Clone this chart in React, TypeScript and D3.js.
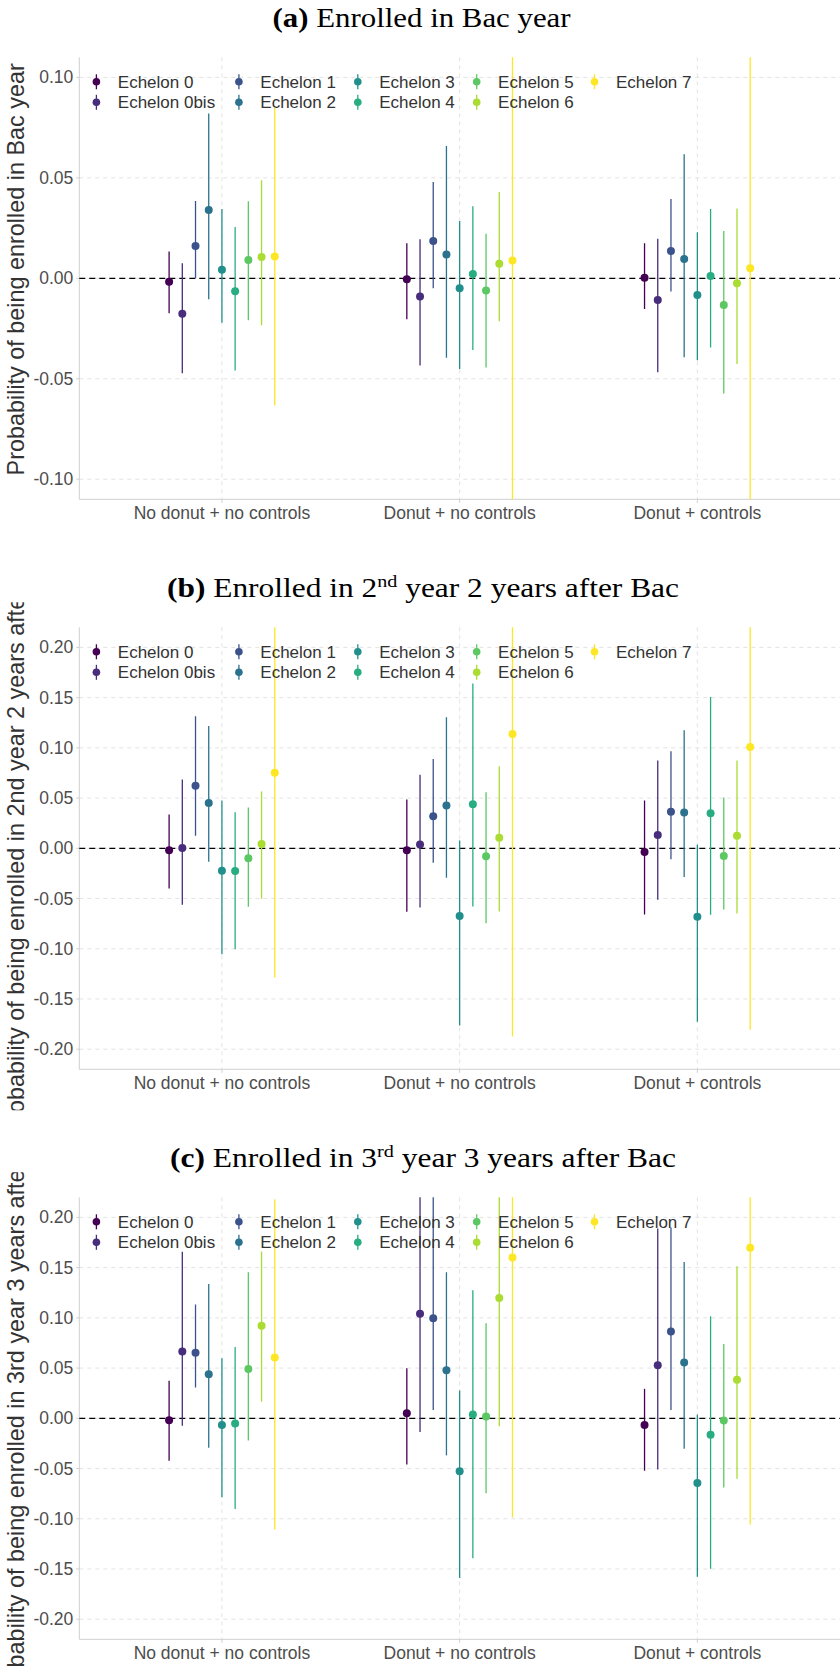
import React from 'react';
import * as d3 from 'd3';

const categories = ['No donut + no controls', 'Donut + no controls', 'Donut + controls'];
const echelons = ['Echelon 0', 'Echelon 0bis', 'Echelon 1', 'Echelon 2', 'Echelon 3', 'Echelon 4', 'Echelon 5', 'Echelon 6', 'Echelon 7'];
const echelonColors = ['#440154', '#472D7B', '#3B528B', '#2C728E', '#21908C', '#27AD81', '#5DC863', '#AADC32', '#FDE725'];

// Panel (a): Enrolled in Bac year — rows = categories, columns = echelons
const estA = [
  [-0.0017, -0.0177, 0.0161, 0.034, 0.0043, -0.0065, 0.0091, 0.0106, 0.0109],
  [-0.0005, -0.0091, 0.0186, 0.0118, -0.005, 0.0022, -0.0061, 0.0073, 0.0088],
  [0.0003, -0.0108, 0.0136, 0.0096, -0.0083, 0.0012, -0.0133, -0.0025, 0.005],
];
const loA = [
  [-0.0174, -0.0473, 0.0, -0.0104, -0.0221, -0.0459, -0.0209, -0.0234, -0.0633],
  [-0.0204, -0.0434, -0.005, -0.0395, -0.0451, -0.0357, -0.0444, -0.0214, -0.15],
  [-0.0153, -0.0468, -0.0066, -0.0393, -0.0408, -0.0345, -0.0574, -0.0426, -0.15],
];
const hiA = [
  [0.0133, 0.0075, 0.0385, 0.082, 0.0345, 0.0255, 0.0383, 0.0488, 0.085],
  [0.0174, 0.0194, 0.0479, 0.0658, 0.0285, 0.0358, 0.0222, 0.043, 0.17],
  [0.0174, 0.0197, 0.0395, 0.0617, 0.0229, 0.0345, 0.0235, 0.0348, 0.16],
];

// Panel (b): Enrolled in 2nd year 2 years after Bac
const estB = [
  [-0.002, 0.0003, 0.0622, 0.0452, -0.0223, -0.0226, -0.01, 0.0043, 0.0752],
  [-0.002, 0.0037, 0.0319, 0.0426, -0.0675, 0.0439, -0.008, 0.0106, 0.1138],
  [-0.0037, 0.0133, 0.0363, 0.0356, -0.0682, 0.0349, -0.0077, 0.0126, 0.1008],
];
const loB = [
  [-0.0399, -0.0562, 0.0126, -0.0133, -0.1055, -0.1005, -0.0582, -0.0502, -0.1287],
  [-0.0632, -0.0589, -0.0143, -0.0293, -0.1763, -0.0579, -0.0745, -0.0629, -0.1873],
  [-0.0659, -0.0512, -0.011, -0.0286, -0.1727, -0.0662, -0.0609, -0.0649, -0.1806],
];
const hiB = [
  [0.0336, 0.0685, 0.1314, 0.1218, 0.0476, 0.0359, 0.0406, 0.0566, 0.279],
  [0.0486, 0.0732, 0.0888, 0.1304, 0.0077, 0.164, 0.0559, 0.0818, 0.415],
  [0.0476, 0.0875, 0.0965, 0.1174, 0.0037, 0.1507, 0.0506, 0.0875, 0.382],
];

// Panel (c): Enrolled in 3rd year 3 years after Bac
const estC = [
  [-0.002, 0.0665, 0.0652, 0.0439, -0.0067, -0.0053, 0.0492, 0.0921, 0.0605],
  [0.005, 0.1041, 0.0995, 0.0479, -0.0526, 0.0037, 0.0017, 0.1198, 0.16],
  [-0.0067, 0.0529, 0.0865, 0.0556, -0.0645, -0.0163, -0.0023, 0.0383, 0.1697],
];
const loC = [
  [-0.0422, -0.0073, 0.0306, -0.0293, -0.0785, -0.0902, -0.022, 0.0166, -0.1108],
  [-0.0459, -0.0136, 0.0083, -0.0369, -0.159, -0.1394, -0.0745, -0.008, -0.0988],
  [-0.0522, -0.0509, 0.0083, -0.0303, -0.1577, -0.1497, -0.0689, -0.0602, -0.1058],
];
const hiC = [
  [0.0373, 0.1657, 0.1134, 0.1337, 0.0599, 0.0709, 0.1454, 0.166, 0.218],
  [0.0499, 0.225, 0.225, 0.1454, 0.0276, 0.1274, 0.0945, 0.2476, 0.4188],
  [0.0293, 0.189, 0.19, 0.1557, 0.0037, 0.1015, 0.0739, 0.1514, 0.445],
];

const ticksA = [-0.1, -0.05, 0, 0.05, 0.1];
const ticksBC = [-0.2, -0.15, -0.1, -0.05, 0, 0.05, 0.1, 0.15, 0.2];
const domainA = [-0.11, 0.11];
const domainBC = [-0.22, 0.22];

const panelLabels = ['(a)', '(b)', '(c)'];
const titleBefore = ['Enrolled in Bac year', 'Enrolled in 2', 'Enrolled in 3'];
const titleSup = ['', 'nd', 'rd'];
const titleAfter = ['', ' year 2 years after Bac', ' year 3 years after Bac'];
const yTitles = [
  'Probability of being enrolled in Bac year',
  'Probability of being enrolled in 2nd year 2 years after Bac',
  'Probability of being enrolled in 3rd year 3 years after Bac',
];

const panels = [
  { est: estA, lo: loA, hi: hiA, ticks: ticksA, domain: domainA },
  { est: estB, lo: loB, hi: hiB, ticks: ticksBC, domain: domainBC },
  { est: estC, lo: loC, hi: hiC, ticks: ticksBC, domain: domainBC },
];

const W = 840;
const H = 1668;
const PANEL_STEP = 570;
const PLOT_LEFT = 79.3;
const PLOT_RIGHT = 840;
const PLOT_TOP0 = 57.3;
const PLOT_BOTTOM0 = 499.3;
const TITLE_WIDTHS = [298, 512, 506];
const TITLE_CX = [421.6, 423, 423];
const LEGEND_COL_X = [96.4, 238.9, 357.8, 476.7, 594.5];
const LEGEND_ROW_DY = [24.5, 45];
const SANS = "'Liberation Sans', Arial, Helvetica, sans-serif";
const SERIF = "'Liberation Serif', 'Times New Roman', serif";

function fmt(v: number) {
  return Math.abs(v) < 1e-9 ? '0.00' : v.toFixed(2);
}

function Panel({ k }: { k: number }) {
  const p = panels[k];
  const top = PLOT_TOP0 + PANEL_STEP * k;
  const bottom = PLOT_BOTTOM0 + PANEL_STEP * k;
  const x = d3.scalePoint<string>().domain(categories).range([PLOT_LEFT, PLOT_RIGHT]).padding(0.6);
  const y = d3.scaleLinear().domain(p.domain).range([bottom, top]);
  const dodge = (0.5 / echelons.length) * x.step();
  const clipId = `plotclip${k}`;
  const imgClipId = `imgclip${k}`;
  const imgTop = top - 25;
  const imgBottom = bottom + 41;
  const midY = (top + bottom) / 2 - 9;
  const titleBase = top - 30.6;

  return (
    <g>
      <defs>
        <clipPath id={clipId}>
          <rect x={PLOT_LEFT} y={top} width={PLOT_RIGHT - PLOT_LEFT} height={bottom - top} />
        </clipPath>
        <clipPath id={imgClipId}>
          <rect x={0} y={imgTop} width={60} height={imgBottom - imgTop} />
        </clipPath>
      </defs>
      {/* Title */}
      <text
        x={TITLE_CX[k]}
        y={titleBase}
        textAnchor="middle"
        fontFamily={SERIF}
        fontSize={26.5}
        fill="#000"
        textLength={TITLE_WIDTHS[k]}
        lengthAdjust="spacingAndGlyphs"
      >
        <tspan fontWeight="bold">{panelLabels[k]}</tspan>
        <tspan>{' ' + titleBefore[k]}</tspan>
        {titleSup[k] ? (
          <tspan fontSize={17} dy={-10}>{titleSup[k]}</tspan>
        ) : null}
        {titleAfter[k] ? <tspan dy={titleSup[k] ? 10 : 0}>{titleAfter[k]}</tspan> : null}
      </text>

      {/* grid */}
      {p.ticks.map((t) => (
        <line key={'hg' + t} x1={PLOT_LEFT} x2={PLOT_RIGHT} y1={y(t)} y2={y(t)} stroke="#e3e3e3" strokeWidth={1} strokeDasharray="4,4" />
      ))}
      {categories.map((c) => (
        <line key={'vg' + c} x1={x(c)} x2={x(c)} y1={top} y2={bottom} stroke="#e3e3e3" strokeWidth={1} strokeDasharray="4,4" />
      ))}

      {/* axes */}
      <line x1={PLOT_LEFT} x2={PLOT_LEFT} y1={top} y2={bottom} stroke="#cfcfcf" strokeWidth={1} />
      <line x1={PLOT_LEFT} x2={PLOT_RIGHT} y1={bottom} y2={bottom} stroke="#cfcfcf" strokeWidth={1} />
      {p.ticks.map((t) => (
        <g key={'yt' + t}>
          <line x1={PLOT_LEFT - 3} x2={PLOT_LEFT} y1={y(t)} y2={y(t)} stroke="#cfcfcf" strokeWidth={1} />
          <text x={PLOT_LEFT - 6} y={y(t) + 6} textAnchor="end" fontFamily={SANS} fontSize={17.5} fill="#4d4d4d">
            {fmt(t)}
          </text>
        </g>
      ))}
      {categories.map((c) => (
        <g key={'xt' + c}>
          <line x1={x(c)} x2={x(c)} y1={bottom} y2={bottom + 3.5} stroke="#cfcfcf" strokeWidth={1} />
          <text x={x(c)} y={bottom + 19.7} textAnchor="middle" fontFamily={SANS} fontSize={17.5} fill="#4d4d4d">
            {c}
          </text>
        </g>
      ))}

      {/* zero line */}
      <line x1={PLOT_LEFT} x2={PLOT_RIGHT} y1={y(0)} y2={y(0)} stroke="#000" strokeWidth={1.2} strokeDasharray="6,4" />

      {/* point ranges */}
      <g clipPath={`url(#${clipId})`}>
        {categories.map((c, ci) =>
          echelons.map((e, ei) => {
            const cx = (x(c) as number) + (ei - (echelons.length - 1) / 2) * dodge;
            return (
              <g key={c + e}>
                <line x1={cx} x2={cx} y1={y(p.lo[ci][ei])} y2={y(p.hi[ci][ei])} stroke={echelonColors[ei]} strokeWidth={1.3} />
                <circle cx={cx} cy={y(p.est[ci][ei])} r={4} fill={echelonColors[ei]} />
              </g>
            );
          })
        )}
      </g>

      {/* legend */}
      {echelons.map((e, ei) => {
        const col = Math.floor(ei / 2);
        const row = ei % 2;
        const lx = LEGEND_COL_X[col];
        const ly = top + LEGEND_ROW_DY[row];
        return (
          <g key={'lg' + e}>
            <line x1={lx} x2={lx} y1={ly - 7.5} y2={ly + 7.5} stroke={echelonColors[ei]} strokeWidth={1.3} />
            <circle cx={lx} cy={ly} r={3.8} fill={echelonColors[ei]} />
            <text x={lx + 21.4} y={ly + 6} fontFamily={SANS} fontSize={17} fill="#333">
              {e}
            </text>
          </g>
        );
      })}

      {/* y axis title */}
      <g clipPath={`url(#${imgClipId})`}>
        <text
          transform={`translate(23.5, ${midY}) rotate(-90)`}
          textAnchor="middle"
          fontFamily={SANS}
          fontSize={23.4}
          fill="#333"
        >
          {yTitles[k]}
        </text>
      </g>
    </g>
  );
}

export default function App() {
  return (
    <svg
      width={W}
      height={H}
      viewBox={`0 0 ${W} ${H}`}
      style={{ position: 'absolute', left: 0, top: 0, display: 'block', background: '#fff' }}
    >
      <rect x={0} y={0} width={W} height={H} fill="#fff" />
      {panels.map((_, k) => (
        <Panel key={k} k={k} />
      ))}
    </svg>
  );
}
